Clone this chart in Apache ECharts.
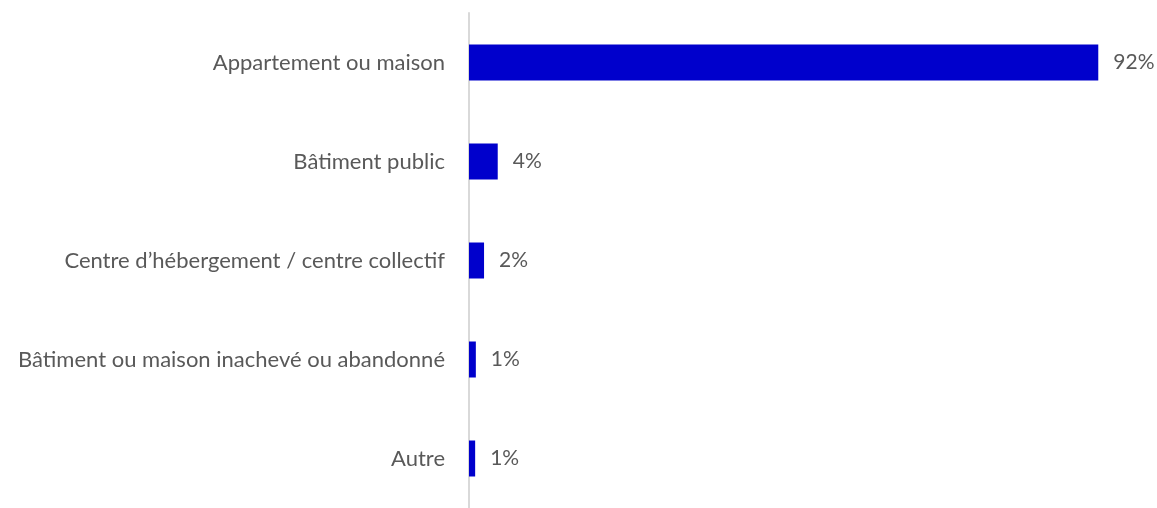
<!DOCTYPE html>
<html>
<head>
<meta charset="utf-8">
<script src="https://cdn.jsdelivr.net/npm/echarts@6/dist/echarts.min.js"></script>
<style>
  html, body { margin: 0; padding: 0; background: #fff; }
  #chart { width: 1157px; height: 508px; }
</style>
</head>
<body>
<div id="chart"></div>
<script>
// categories top to bottom
var categories = [
  "Appartement ou maison",
  "Bâtiment public",
  "Centre d’hébergement / centre collectif",
  "Bâtiment ou maison inachevé ou abandonné",
  "Autre"
];
// share in percent
var values = [92, 4.2, 2.2, 1.0, 0.9];

var chart = echarts.init(document.getElementById("chart"));
chart.setOption({
  backgroundColor: "#fff",
  animation: false,
  grid: { left: 469, right: 4, top: 13, bottom: -8, containLabel: false },
  xAxis: {
    type: "value",
    min: 0,
    max: 100,
    show: false
  },
  yAxis: {
    type: "category",
    inverse: true,
    data: categories,
    axisLine: { show: true, lineStyle: { color: "#d9d9d9", width: 2 } },
    axisTick: { show: false },
    axisLabel: {
      margin: 24,
      color: "#595959",
      fontSize: 22,
      fontFamily: "Lato"
    }
  },
  series: [{
    type: "bar",
    data: values,
    barWidth: 36,
    itemStyle: { color: "#0000cc" },
    label: {
      show: true,
      position: "right",
      distance: 15,
      color: "#595959",
      fontSize: 21,
      fontFamily: "Lato",
      formatter: function (p) { return Math.round(p.value) + "%"; }
    }
  }]
});
</script>
</body>
</html>
